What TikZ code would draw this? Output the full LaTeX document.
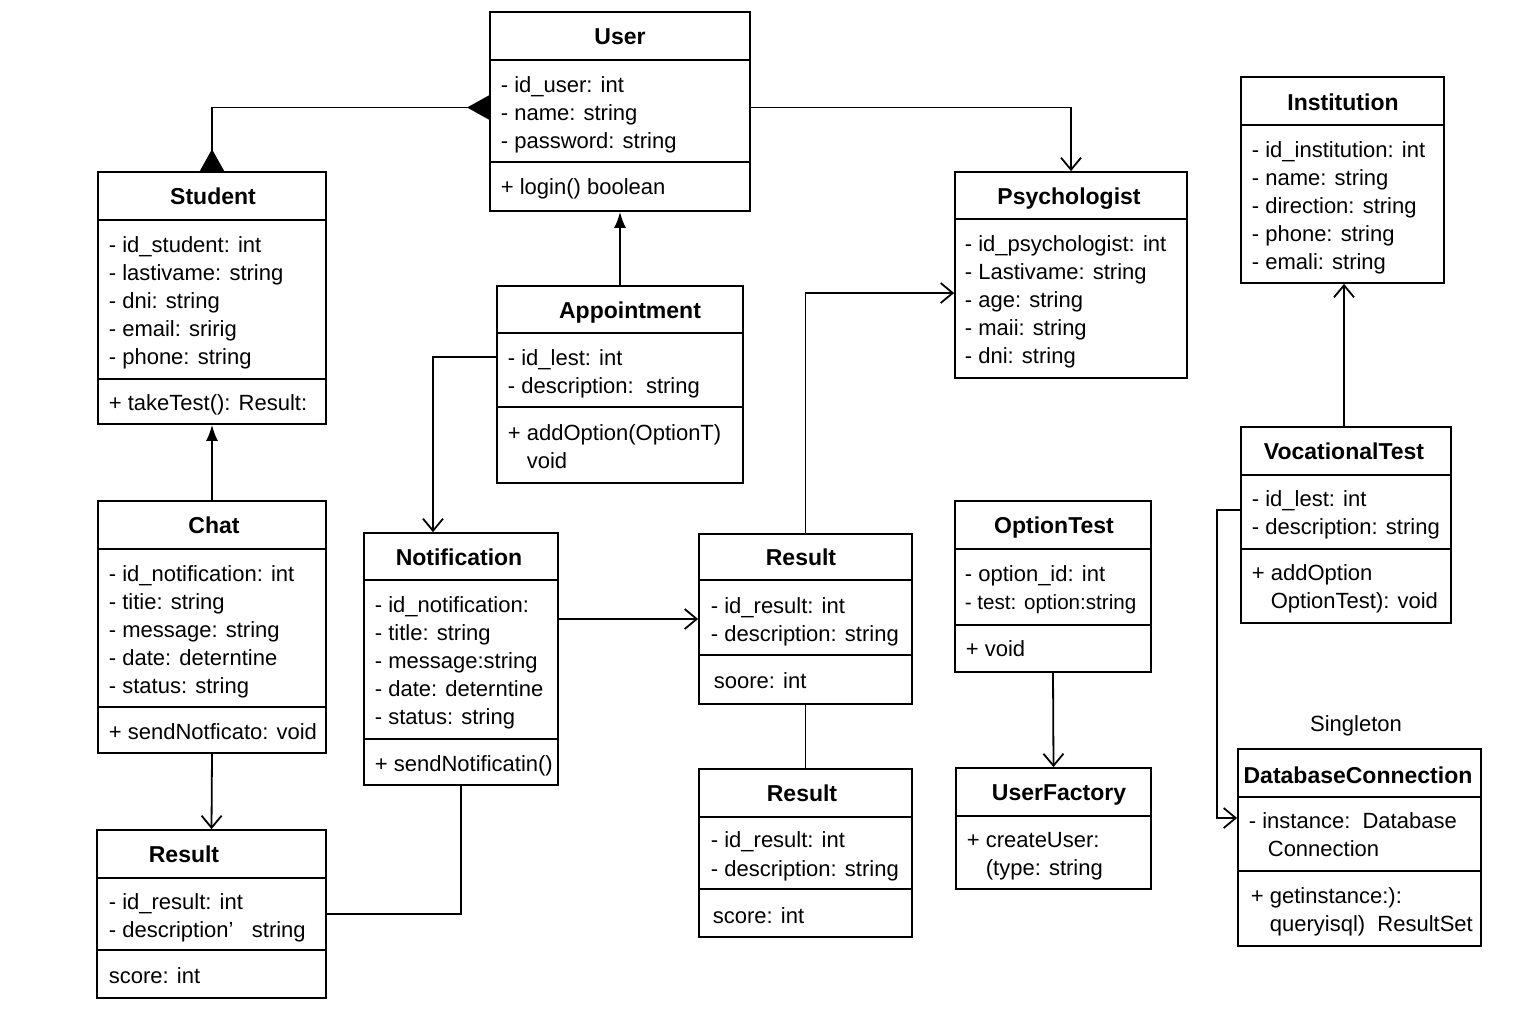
\documentclass[tikz,border=0pt]{standalone}
\usepackage{fontspec}
\setmainfont{Liberation Sans}
\usetikzlibrary{arrows.meta,fit}

\tikzset{
  classbox/.style={draw, inner sep=0pt},
  classtitle/.style={anchor=base, inner sep=0pt, font=\fontsize{11.5}{14}\selectfont\bfseries},
  member/.style={anchor=base west, inner sep=0pt, font=\fontsize{11}{14}\selectfont},
  assoc/.style={-{Straight Barb[length=6pt,width=10pt]}},
  realize/.style={-{Latex[length=8pt,width=6pt]}},
  inherit/.style={arrows={Triangle[reversed,length=11pt,width=12pt]-Triangle[reversed,length=11pt,width=12pt]}}
}

\begin{document}
\begin{tikzpicture}[x=0.5pt,y=-0.5pt,line width=0.9pt]
\useasboundingbox (0,0) rectangle (1536,1024);

% User
\node[classbox, fit={(490,12) (750,211)}] (user) {};
\draw (490,60) -- (750,60) (490,162) -- (750,162);
\node[classtitle] (user-t) at (620,44) {User};
\foreach \txt [count=\i from 0] in {- id\_user: int, - name: string, - password: string}
  \node[member] (user-a\i) at (500,92+28*\i) {\txt};
\node[member] (user-m) at (500,194) {+ login() boolean};

% Student
\node[classbox, fit={(98,172) (326,424)}] (student) {};
\draw (98,220) -- (326,220) (98,379) -- (326,379);
\node[classtitle] (student-t) at (213,204) {Student};
\foreach \txt [count=\i from 0] in {- id\_student: int, - lastivame: string, - dni: string, - email: sririg, - phone: string}
  \node[member] (student-a\i) at (108,252+28*\i) {\txt};
\node[member] (student-m) at (108,410) {+ takeTest(): Result:};

% Psychologist
\node[classbox, fit={(955,172) (1187,378)}] (psych) {};
\draw (955,219) -- (1187,219);
\node[classtitle] (psych-t) at (1069,204) {Psychologist};
\foreach \txt [count=\i from 0] in {- id\_psychologist: int, - Lastivame: string, - age: string, - maii: string, - dni: string}
  \node[member] (psych-a\i) at (964,251+28*\i) {\txt};

% Institution
\node[classbox, fit={(1241,77) (1444,283)}] (inst) {};
\draw (1241,125) -- (1444,125);
\node[classtitle] (inst-t) at (1343,110) {Institution};
\foreach \txt [count=\i from 0] in {- id\_institution: int, - name: string, - direction: string, - phone: string, - emali: string}
  \node[member] (inst-a\i) at (1251,157+28*\i) {\txt};

% Appointment
\node[classbox, fit={(497,286) (743,483)}] (appt) {};
\draw (497,333) -- (743,333) (497,407) -- (743,407);
\node[classtitle] (appt-t) at (630,318) {Appointment};
\node[member] (appt-a0) at (507,365) {- id\_lest: int};
\node[member] (appt-a1) at (507,393) {- description:\ \ string};
\node[member] (appt-m0) at (507,440) {+ addOption(OptionT)};
\node[member] (appt-m1) at (507,468) {\phantom{+ }void};

% Chat
\node[classbox, fit={(98,501) (326,753)}] (chat) {};
\draw (98,549) -- (326,549) (98,707) -- (326,707);
\node[classtitle] (chat-t) at (214,533) {Chat};
\foreach \txt [count=\i from 0] in {- id\_notification: int, - titie: string, - message: string, - date: deterntine, - status: string}
  \node[member] (chat-a\i) at (108,581+28*\i) {\txt};
\node[member] (chat-m) at (108,739) {+ sendNotficato: void};

% Notification
\node[classbox, fit={(364,533) (558,785)}] (notif) {};
\draw (364,580) -- (558,580) (364,739) -- (558,739);
\node[classtitle] (notif-t) at (459,565) {Notification};
\foreach \txt [count=\i from 0] in {- id\_notification:, - title: string, - message:string, - date: deterntine, - status: string}
  \node[member] (notif-a\i) at (374,612+28*\i) {\txt};
\node[member] (notif-m) at (374,771) {+ sendNotificatin()};

% Result (middle)
\node[classbox, fit={(699,534) (912,704)}] (resmid) {};
\draw (699,580) -- (912,580) (699,655) -- (912,655);
\node[classtitle] (resmid-t) at (801,565) {Result};
\node[member] (resmid-a0) at (710,613) {- id\_result: int};
\node[member] (resmid-a1) at (710,641) {- description: string};
\node[member] (resmid-m) at (713,688) {soore: int};

% OptionTest
\node[classbox, fit={(955,501) (1151,672)}] (opt) {};
\draw (955,549) -- (1151,549) (955,625) -- (1151,625);
\node[classtitle] (opt-t) at (1054,533) {OptionTest};
\node[member] (opt-a0) at (964,581) {- option\_id: int};
\node[member] (opt-a1) at (964,609) {\fontsize{10.3}{14}\selectfont - test: option:string};
\node[member] (opt-m) at (965,656) {+ void};

% VocationalTest
\node[classbox, fit={(1241,427) (1451,623)}] (voc) {};
\draw (1241,475) -- (1451,475) (1241,549) -- (1451,549);
\node[classtitle] (voc-t) at (1344,459) {VocationalTest};
\node[member] (voc-a0) at (1251,506) {- id\_lest: int};
\node[member] (voc-a1) at (1251,534) {- description: string};
\node[member] (voc-m0) at (1251,580) {+ addOption};
\node[member] (voc-m1) at (1251,608) {\phantom{+ }OptionTest): void};

% Result (bottom left)
\node[classbox, fit={(97,830) (326,998)}] (resbl) {};
\draw (97,878) -- (326,878) (97,950) -- (326,950);
\node[classtitle] (resbl-t) at (184,862) {Result};
\node[member] (resbl-a0) at (108,909) {- id\_result: int};
\node[member] (resbl-a1) at (108,937) {- description’\ \ \ string};
\node[member] (resbl-m) at (108,983) {score: int};

% Result (bottom middle)
\node[classbox, fit={(699,769) (912,937)}] (resbm) {};
\draw (699,817) -- (912,817) (699,889) -- (912,889);
\node[classtitle] (resbm-t) at (802,801) {Result};
\node[member] (resbm-a0) at (710,847) {- id\_result: int};
\node[member] (resbm-a1) at (710,876) {- description: string};
\node[member] (resbm-m) at (712,923) {score: int};

% UserFactory
\node[classbox, fit={(956,768) (1151,889)}] (uf) {};
\draw (956,816) -- (1151,816);
\node[classtitle] (uf-t) at (1059,800) {UserFactory};
\node[member] (uf-m0) at (966,847) {+ createUser:};
\node[member] (uf-m1) at (966,875) {\phantom{+ }(type: string};

% DatabaseConnection
\node[member, anchor=base] (single) at (1356,731) {Singleton};
\node[classbox, fit={(1238,749) (1481,946)}] (db) {};
\draw (1238,797) -- (1481,797) (1238,871) -- (1481,871);
\node[classtitle] (db-t) at (1358,783) {DatabaseConnection};
\node[member] (db-a0) at (1248,828) {- instance:\ \ Database};
\node[member] (db-a1) at (1248,856) {\phantom{+ }Connection};
\node[member] (db-m0) at (1250,903) {+ getinstance:):};
\node[member] (db-m1) at (1250,931) {\phantom{+ }queryisql)\ \ ResultSet};

% connectors
\draw[inherit] (student.north) |- ([yshift=2pt]user.west);
\draw[assoc] ([yshift=2pt]user.east) -| (psych.north);
\draw[realize] (appt.north) -- (user.south);
\draw[assoc] ([yshift=13.75pt]appt.west) -| ([xshift=-14pt]notif.north);
\draw[realize] (chat.north) -- (student.south);
\draw[assoc] (chat.south) -- (resbl.north);
\draw (notif.south) |- (resbl.east);
\draw[assoc] (notif.east |- resmid.west) -- (resmid.west);
\draw[assoc] (resmid.north) |- ([yshift=-9pt]psych.west);
\draw (resmid.south) -- (resbm.north);
\draw[assoc] (opt.south) -- (uf.north);
\draw[assoc] ([xshift=-1pt]voc.north) -- ([xshift=-1pt]voc.north |- inst.south);
\draw[assoc] ([yshift=7.5pt]voc.west) -- ++(-23,0) |- ([yshift=14.75pt]db.west);
\end{tikzpicture}
\end{document}
